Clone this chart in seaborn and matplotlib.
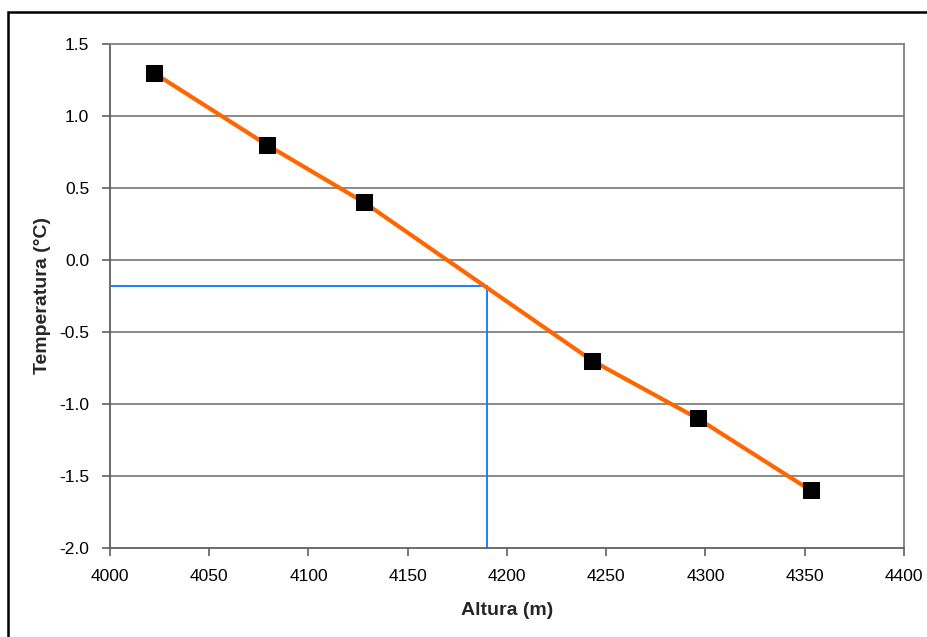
import matplotlib
matplotlib.use("Agg")
import matplotlib.pyplot as plt
import matplotlib.patches as mpatches
from matplotlib.ticker import FormatStrFormatter
import pandas as pd
import seaborn as sns

# Measured temperature at each altitude
altura = [4022, 4079, 4128, 4243, 4296, 4353]
temperatura = [1.3, 0.8, 0.4, -0.7, -1.1, -1.6]

# Altitude for a given temperature
altura_lectura = [4000, 4190, 4190]
temp_lectura = [-0.18, -0.18, -2.0]

x_ticks = [4000, 4050, 4100, 4150, 4200, 4250, 4300, 4350, 4400]
y_ticks = [-2.0, -1.5, -1.0, -0.5, 0.0, 0.5, 1.0, 1.5]

sns.set_style("white")
plt.rcParams["font.family"] = ["Liberation Sans", "DejaVu Sans"]

df = pd.DataFrame({"Altura (m)": altura, "Temperatura (°C)": temperatura})

W, H = 928, 637
fig = plt.figure(figsize=(W / 100, H / 100), dpi=100)
fig.patch.set_facecolor("white")
ax = fig.add_axes([110 / W, 1 - 548 / H, (904 - 110) / W, (548 - 44) / H])

# horizontal gridlines
for yv in y_ticks[1:-1]:
    ax.axhline(yv, color="#808080", lw=1.3, zorder=1)

# reading lines
ax.plot(altura_lectura, temp_lectura, color="#1a7fff", lw=1.4, zorder=2,
        solid_joinstyle="miter")

sns.lineplot(data=df, x="Altura (m)", y="Temperatura (°C)", ax=ax,
             color="#ff6600", lw=3.0, marker="s", markersize=12,
             markerfacecolor="black", markeredgecolor="black",
             zorder=3, sort=False)

ax.set_xlim(4000, 4400)
ax.set_ylim(-2.0, 1.5)
ax.set_xticks(x_ticks)
ax.set_yticks(y_ticks)
ax.yaxis.set_major_formatter(FormatStrFormatter("%.1f"))

for side in ["left", "bottom", "right", "top"]:
    ax.spines[side].set_visible(True)
    ax.spines[side].set_color("#808080")
    ax.spines[side].set_linewidth(1.3)
ax.spines["left"].set_color("#606060")
ax.spines["bottom"].set_color("#606060")

ax.tick_params(axis="both", which="major", direction="out", length=6,
               width=1.2, color="#606060", labelsize=12.5, labelcolor="black",
               left=True, bottom=True)
ax.tick_params(axis="x", pad=9)
ax.tick_params(axis="y", pad=9)

ax.set_xlabel("Altura (m)", fontsize=14, fontweight="bold", labelpad=13)
ax.set_ylabel("Temperatura (°C)", fontsize=14, fontweight="bold", labelpad=6)

# outer chart border
frame = mpatches.Rectangle((8 / W, -0.1), 1.2, 1 - 12 / H + 0.1,
                           transform=fig.transFigure, fill=False,
                           edgecolor="black", lw=1.8, clip_on=False)
fig.patches.append(frame)

fig.savefig("out.png", dpi=100, facecolor="white")
